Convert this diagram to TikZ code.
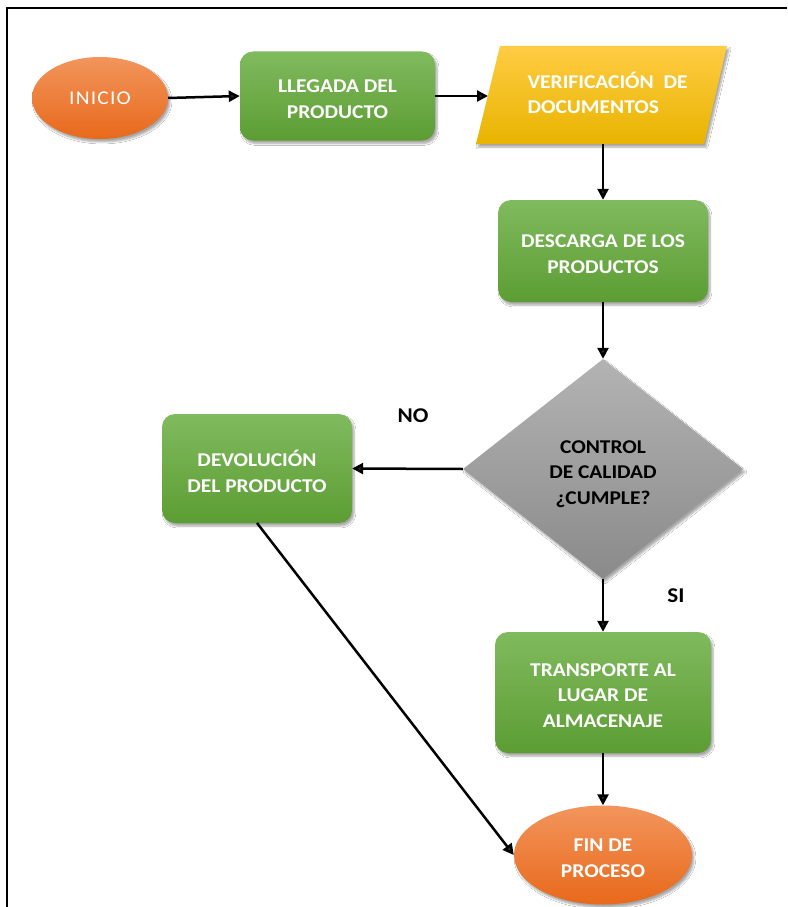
\documentclass[tikz,border=0pt]{standalone}
\usepackage{fontspec}
\setmainfont{Carlito}[FakeStretch=1.1]
\usetikzlibrary{shapes.geometric,arrows.meta,shadows.blur}
\definecolor{orTop}{HTML}{F2955C}
\definecolor{orBot}{HTML}{E8691B}
\definecolor{grTop}{HTML}{80BA5E}
\definecolor{grBot}{HTML}{5C9D33}
\definecolor{yeTop}{HTML}{FFCC44}
\definecolor{yeBot}{HTML}{E8B400}
\definecolor{gyTop}{HTML}{B3B3B3}
\definecolor{gyBot}{HTML}{8A8A8A}
\tikzset{
  shd/.style={blur shadow={shadow xshift=2pt,shadow yshift=-3pt,shadow blur steps=6,shadow opacity=35}},
  txt/.style={font=\fontsize{19.5}{25.5}\selectfont\bfseries, text=white, align=center},
  greenbox/.style={shd, rectangle, rounded corners=13pt, top color=grTop, bottom color=grBot, inner sep=0pt},
  orangeell/.style={shd, ellipse, top color=orTop, bottom color=orBot, inner sep=0pt},
  graydia/.style={shd, diamond, top color=gyTop, bottom color=gyBot, inner sep=0pt},
  intext/.style={label={[txt, yshift=-3pt]center:#1}},
  arr/.style={line width=2.5pt, -{Triangle[length=11pt,width=11pt]}},
  lbl/.style={font=\fontsize{21}{25}\selectfont\bfseries, text=black}
}
\begin{document}
\begin{tikzpicture}[x=1pt,y=-1pt]
\useasboundingbox (0,0) rectangle (787,907);
\fill[white] (0,0) rectangle (787,907);
% frame
\draw[line width=2pt] (7,907) -- (7,8) -- (787,8);

% INICIO
\node[orangeell, minimum width=136pt, minimum height=82pt, txt, font=\fontsize{19.5}{25}\selectfont\addfontfeature{LetterSpace=6}] (inicio) at (100,98) {INICIO};
% LLEGADA
\node[greenbox, minimum width=195pt, minimum height=89pt, intext={LLEGADA DEL\\PRODUCTO}] (llegada) at (337.5,96) {};
% VERIFICACION parallelogram
\path[shd, top color=yeTop, bottom color=yeBot] (500,46) -- (727,46) -- (704,144) -- (476,144) -- cycle;
\node[txt, align=left, anchor=west] (verif) at (524,93) {VERIFICACIÓN\ \ DE\\DOCUMENTOS};
\coordinate (verifW) at (488,96);
\coordinate (verifS) at (603,144);
% DESCARGA
\node[greenbox, minimum width=210pt, minimum height=102pt, intext={DESCARGA DE LOS\\PRODUCTOS}] (descarga) at (603,251) {};
% CONTROL
\node[graydia, minimum width=280pt, minimum height=220pt, label={[txt, text=black, yshift=-5pt]center:{CONTROL\\DE CALIDAD\\¿CUMPLE?}}] (control) at (603,469) {};
% DEVOLUCION
\node[greenbox, minimum width=190pt, minimum height=109pt, intext={DEVOLUCIÓN\\DEL PRODUCTO}] (devol) at (257,468.5) {};
% TRANSPORTE
\node[greenbox, minimum width=216pt, minimum height=121pt, intext={TRANSPORTE AL\\LUGAR DE\\ALMACENAJE}] (transp) at (603,692.5) {};
% FIN
\node[orangeell, minimum width=178pt, minimum height=99pt, intext={FIN DE\\PROCESO}] (fin) at (603,855) {};

% labels
\node[lbl] (no) at (413,416) {NO};
\node[lbl] (si) at (676,596) {SI};

% connectors
\draw[arr] (inicio.east) -- (llegada.west);
\draw[arr] (llegada.east |- 0,96) -- (verifW);
\draw[arr] (verifS) -- (descarga.north);
\draw[arr] (descarga.south) -- (control.north);
\draw[arr] (control.west) -- (devol.east);
\draw[arr] (control.south) -- (transp.north);
\draw[arr] (transp.south) -- (fin.north);
\draw[arr] (257,523) -- (fin.west);
\end{tikzpicture}
\end{document}
